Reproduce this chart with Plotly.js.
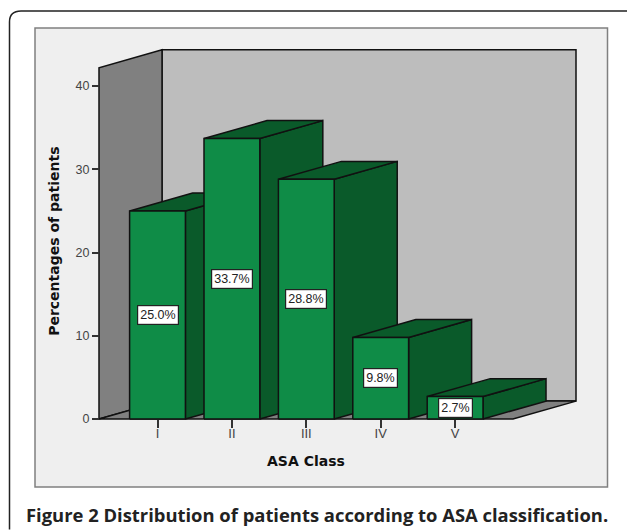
<!DOCTYPE html>
<html>
<head>
<meta charset="utf-8">
<script src="https://cdn.plot.ly/plotly-3.0.1.min.js"></script>
<style>html,body{margin:0;padding:0;background:#fff}</style>
</head>
<body>
<div id="chart" style="width:627px;height:530px"></div>
<script>
const categories = ["I", "II", "III", "IV", "V"];
const percentages = [25.0, 33.7, 28.8, 9.8, 2.7];
const valueLabels = ["25.0%", "33.7%", "28.8%", "9.8%", "2.7%"];
const yTicks = [0, 10, 20, 30, 40];

// plot geometry (a small pad round the box keeps its edge lines unclipped)
const L = 97, R = 578, T = 48, B = 421.3;
const pxPerCat = 74.4, pxPerVal = 8.33, firstCatPx = 157.5, zeroPx = 419.3;
const rangeX = [1 - (firstCatPx - L) / pxPerCat, 1 + (R - firstCatPx) / pxPerCat];
const rangeY = [-(B - zeroPx) / pxPerVal, (zeroPx - T) / pxPerVal];
const xMin = 0.2137, xMax = 5.778, yMax = 42.2;
const depthX = 0.847, depthY = 2.15, barHalf = 0.375;
const edge = {color: "#111111", width: 1.5};

function poly(xs, ys, fill) {
  return {type: "scatter", mode: "lines", x: xs.concat(xs[0]), y: ys.concat(ys[0]),
    fill: "toself", fillcolor: fill, line: edge,
    hoverinfo: "skip", showlegend: false};
}
const traces = [
  poly([xMin + depthX, xMin + depthX, xMax + depthX, xMax + depthX],
       [depthY, yMax + depthY, yMax + depthY, depthY], "#bdbdbd"),
  poly([xMin, xMin, xMin + depthX, xMin + depthX],
       [0, yMax, yMax + depthY, depthY], "#808080"),
  poly([xMin, xMin + depthX, xMax + depthX, xMax],
       [0, depthY, depthY, 0], "#808080")
];
percentages.forEach((v, i) => {
  const a = i + 1 - barHalf, b = i + 1 + barHalf;
  traces.push(poly([b, b, b + depthX, b + depthX], [0, v, v + depthY, depthY], "#0a5a2a"));
  traces.push(poly([a, b, b + depthX, a + depthX], [v, v, v + depthY, v + depthY], "#0a5a2a"));
  traces.push(poly([a, a, b, b], [0, v, v, 0], "#0f8c47"));
});

const fx = p => (p - L) / (R - L), fy = p => (B - p) / (B - T);
const panel = {type: "rect", xref: "paper", yref: "paper", layer: "below",
  x0: fx(35), x1: fx(607.5), y0: fy(487.3), y1: fy(28),
  fillcolor: "#efefef", line: {color: "#808080", width: 1.5}};
const framePath = "M" + fx(9.5) + " " + fy(530) + " L" + fx(9.5) + " " + fy(22) +
  " Q" + fx(9.5) + " " + fy(11) + " " + fx(21) + " " + fy(11) +
  " L" + fx(627) + " " + fy(11);

const annotations = percentages.map((v, i) => ({
  x: i + 1, y: v / 2, xref: "x", yref: "y", text: valueLabels[i], showarrow: false,
  bgcolor: "#ffffff", bordercolor: "#222222", borderwidth: 1.2, borderpad: 2,
  font: {family: "Liberation Sans", size: 12.5, color: "#222222"}
}));
annotations.push({
  x: fx(24), y: fy(514.5), xref: "paper", yref: "paper", xanchor: "left", yanchor: "middle",
  showarrow: false, align: "left",
  text: "<b>Figure 2 Distribution of patients according to ASA classification.</b>",
  font: {family: "Open Sans", size: 18.4, color: "#222222"}
});
annotations.push({
  x: fx(306), y: fy(461), xref: "paper", yref: "paper", xanchor: "center", yanchor: "middle", showarrow: false,
  text: "<b>ASA Class</b>", font: {family: "DejaVu Sans", size: 14, color: "#111111"}
});
annotations.push({
  x: fx(54), y: fy(242), xref: "paper", yref: "paper", xanchor: "center", yanchor: "middle", showarrow: false, textangle: -90,
  text: "<b>Percentages of patients</b>", font: {family: "DejaVu Sans", size: 14, color: "#111111"}
});

const layout = {
  width: 627, height: 530,
  margin: {l: L, r: 627 - R, t: T, b: 530 - B, pad: 0},
  paper_bgcolor: "#ffffff", plot_bgcolor: "rgba(0,0,0,0)",
  showlegend: false,
  xaxis: {
    range: rangeX, anchor: "free", position: (B - zeroPx) / (B - T),
    tickmode: "array", tickvals: categories.map((c, i) => i + 1), ticktext: categories,
    ticks: "outside", ticklen: 8, tickwidth: 1.5, tickcolor: "#333333", ticklabelstandoff: -6,
    showgrid: false, zeroline: false, showline: false,
    tickfont: {family: "Liberation Sans", size: 13, color: "#444444"}
  },
  yaxis: {
    range: rangeY, anchor: "free", position: (99 - L) / (R - L),
    tickmode: "array", tickvals: yTicks,
    ticks: "outside", ticklen: 7, tickwidth: 1.5, tickcolor: "#333333",
    showgrid: false, zeroline: false, showline: false,
    tickfont: {family: "Liberation Sans", size: 12.5, color: "#444444"}
  },
  shapes: [
    {type: "path", path: framePath, xref: "paper", yref: "paper", layer: "below",
     line: {color: "#222222", width: 1.5}},
    panel
  ],
  annotations: annotations
};
Plotly.newPlot("chart", traces, layout, {displayModeBar: false, responsive: false});
</script>
</body>
</html>
